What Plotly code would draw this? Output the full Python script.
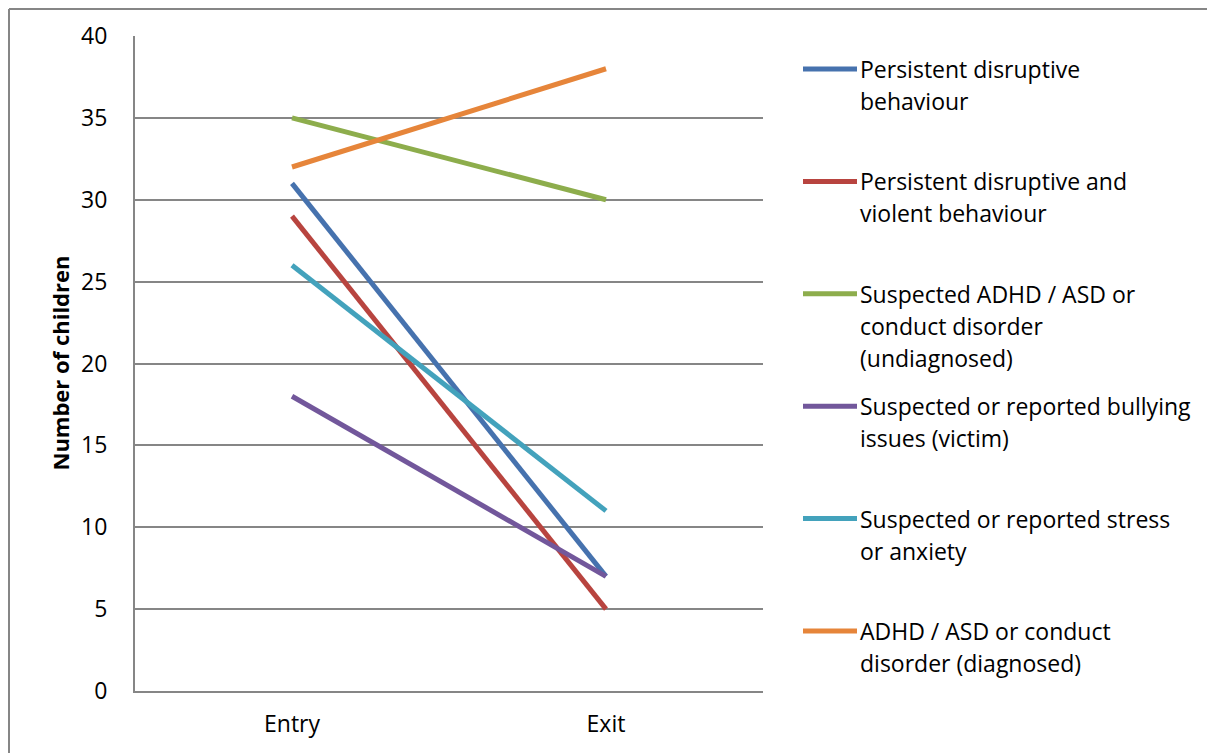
import plotly.graph_objects as go

categories = ["Entry", "Exit"]
series_names = [
    "Persistent disruptive behaviour",
    "Persistent disruptive and violent behaviour",
    "Suspected ADHD / ASD or conduct disorder (undiagnosed)",
    "Suspected or reported bullying issues (victim)",
    "Suspected or reported stress or anxiety",
    "ADHD / ASD or conduct disorder (diagnosed)",
]
legend_lines = [
    ["Persistent disruptive", "behaviour"],
    ["Persistent disruptive and", "violent behaviour"],
    ["Suspected ADHD / ASD or", "conduct disorder", "(undiagnosed)"],
    ["Suspected or reported bullying", "issues (victim)"],
    ["Suspected or reported stress", "or anxiety"],
    ["ADHD / ASD or conduct", "disorder (diagnosed)"],
]
persistent_disruptive = [31, 7]
persistent_violent = [29, 5]
suspected_adhd = [35, 30]
bullying = [18, 7]
stress_anxiety = [26, 11]
diagnosed_adhd = [32, 38]
series_values = [persistent_disruptive, persistent_violent, suspected_adhd,
                 bullying, stress_anxiety, diagnosed_adhd]
colors = ["#4672AE", "#B8443F", "#8DAD4C", "#72579B", "#43A2BC", "#E6853A"]
y_ticks = [0, 5, 10, 15, 20, 25, 30, 35, 40]

FONT = "Open Sans"
W, H = 1215, 753
OFF = 8  # page body margin offset
# plot area in page pixels: x 135..763, y 36..691
L = 135 - OFF
T = 36 - OFF
R = W - (763 - OFF)
B = H - (691 - OFF)
PW, PH = W - L - R, H - T - B


def px(x_page):
    return (x_page - OFF - L) / PW


def py(y_page):
    return (H - B - (y_page - OFF)) / PH


fig = go.Figure()
for name, vals, col in zip(series_names, series_values, colors):
    fig.add_trace(go.Scatter(
        x=categories, y=vals, name=name, mode="lines",
        line=dict(color=col, width=5), showlegend=False,
    ))

annotations = [dict(
    text="<b>Number of children</b>", xref="paper", yref="paper",
    x=px(59), y=0.5, xanchor="center", yanchor="middle",
    textangle=-90, showarrow=False,
    font=dict(family=FONT, size=22, color="black"),
)]
shapes = [
    dict(type="line", xref="paper", yref="paper",
         x0=px(9), x1=px(W + OFF), y0=py(9), y1=py(9),
         line=dict(color="#868686", width=2)),
    dict(type="line", xref="paper", yref="paper",
         x0=px(9), x1=px(9), y0=py(9), y1=py(H + OFF),
         line=dict(color="#868686", width=2)),
]

# manual legend, laid out like the original (equal pitch per entry)
entry_top = 69
entry_pitch = 112.4
line_pitch = 32
for i, (lines, col) in enumerate(zip(legend_lines, colors)):
    y0 = entry_top + i * entry_pitch
    shapes.append(dict(type="line", xref="paper", yref="paper",
                       x0=px(803), x1=px(857), y0=py(y0), y1=py(y0),
                       line=dict(color=col, width=5)))
    for j, txt in enumerate(lines):
        annotations.append(dict(
            text=txt, xref="paper", yref="paper",
            x=px(858), y=py(y0 + j * line_pitch),
            xanchor="left", yanchor="middle", showarrow=False,
            font=dict(family=FONT, size=23, color="black"),
        ))

fig.update_layout(
    width=W, height=H,
    margin=dict(l=L, r=R, t=T, b=B, autoexpand=False),
    paper_bgcolor="white", plot_bgcolor="white",
    font=dict(family=FONT, size=23, color="black"),
    showlegend=False,
    xaxis=dict(
        type="category", categoryorder="array", categoryarray=categories,
        range=[-0.5, 1.5], showgrid=False, zeroline=False,
        showline=True, linecolor="#868686", linewidth=2,
        ticks="outside", ticklen=11, tickcolor="rgba(0,0,0,0)",
        tickfont=dict(family=FONT, size=23, color="black"),
    ),
    yaxis=dict(
        range=[0, 40], tickvals=y_ticks, showgrid=True, gridcolor="#868686",
        gridwidth=2, zeroline=False, showline=True, linecolor="#868686",
        linewidth=2, ticks="outside", ticklen=21, tickcolor="rgba(0,0,0,0)",
        tickfont=dict(family=FONT, size=23, color="black"),
    ),
    annotations=annotations,
    shapes=shapes,
)

fig.write_html("out.html")
